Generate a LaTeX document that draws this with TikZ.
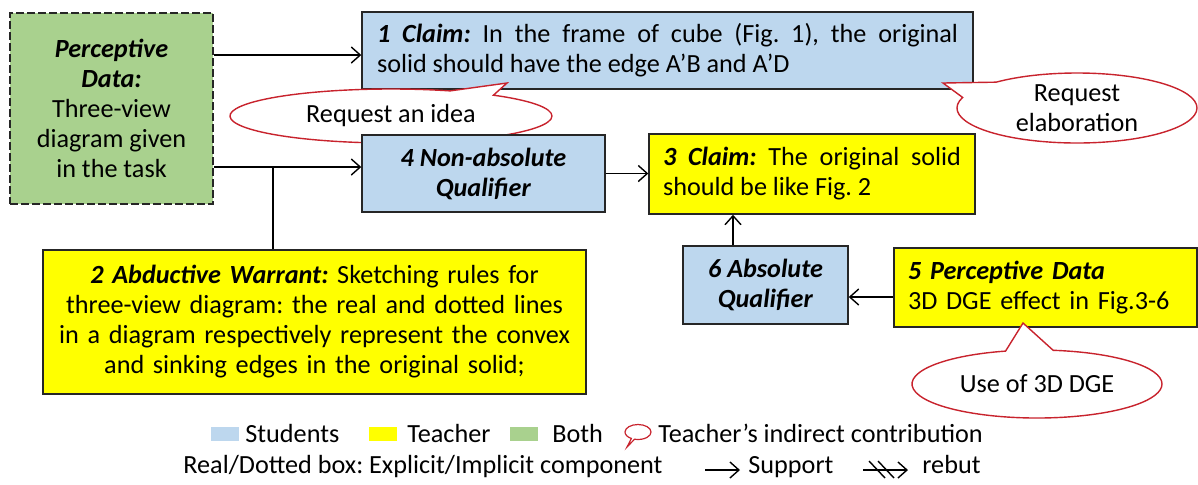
\documentclass[tikz,border=0pt]{standalone}
\usepackage{fontspec}
\setmainfont{Carlito}
\frenchspacing
\usetikzlibrary{
  arrows.meta,
  positioning,
  shapes.callouts
}
\definecolor{stublue}{RGB}{189,215,238}
\definecolor{teachyel}{RGB}{255,255,0}
\definecolor{bothgreen}{RGB}{169,209,142}
\definecolor{callred}{RGB}{200,35,45}
\newcommand{\boxfont}{\fontsize{13.1pt}{15pt}\selectfont}
\newcommand{\hd}[1]{\textbf{\textit{#1}}}
\tikzset{
  part/.style   = {draw=black!85, line width=0.7pt, inner ysep=0pt,
                   inner xsep=7pt, font=\boxfont},
  stud/.style   = {part, fill=stublue},
  teach/.style  = {part, fill=teachyel},
  both/.style   = {part, fill=bothgreen, line width=0.8pt,
                   dash pattern=on 4pt off 1.5pt},
  arrow/.style  = {-{Straight Barb[length=4.5pt,width=8pt]}, line width=0.7pt},
  bubble/.style = {ellipse callout, draw=callred, fill=white, line width=0.7pt,
                   inner sep=0pt, align=center, font=\boxfont},
  swatch/.style = {minimum width=14pt, minimum height=7pt, inner sep=0pt},
  key/.style    = {anchor=base west, inner sep=0pt, font=\boxfont},
}

\begin{document}
\begin{tikzpicture}[x=0.5pt, y=-0.5pt]
\useasboundingbox (0,0) rectangle (1198,484);

\node[both, align=center, minimum width=101.5pt, minimum height=95.5pt]
  (pdata) at (111.5,108.5)
  {\hd{Perceptive}\\\hd{Data:}\\Three-view\\diagram given\\in the task};
\node[stud, align=justify, text width=290.5pt, inner xsep=7.5pt, minimum height=38.5pt]
  (claimA) at (667.5,50.5)
  {\hd{1 Claim:} In the frame of cube (Fig. 1), the original\linebreak
   solid should have the edge A’B and A’D};

% callout sits between the two blue boxes
\coordinate (ideaTip) at (507,83);
\node[bubble, minimum width=161pt, minimum height=27pt,
      callout absolute pointer=(ideaTip), callout pointer arc=18]
  (idea) at (391,116) {Request an idea};

\node[stud, align=center, minimum width=121.5pt, minimum height=38.5pt]
  (qualA) at (483.5,173.5) {\hd{4 Non-absolute}\\\hd{Qualifier}};
\node[teach, align=justify, text width=149pt, minimum height=40pt]
  (claimB) at (812,174)
  {\hd{3 Claim:} The original solid\linebreak should be like Fig. 2};
\node[stud, align=center, minimum width=82.5pt, minimum height=39pt]
  (absQ) at (765.5,285) {\hd{6 Absolute}\\\hd{Qualifier}};
\node[teach, align=left, text width=137.5pt, minimum height=39.5pt]
  (percB) at (1045.5,287.5)
  {\hd{5 Perceptive Data}\\3D DGE effect in Fig.3-6};
\node[teach, align=center, text width=265pt, inner xsep=3.25pt, minimum height=72pt]
  (warr) at (314.5,322)
  {\hd{2 Abductive Warrant:} Sketching rules for\\
   three-view diagram: the real and dotted lines\\
   in a diagram respectively represent the convex\\
   and sinking edges in the original solid;};

\coordinate (elabTip) at (943,83);
\node[bubble, minimum width=120pt, minimum height=35pt,
      callout absolute pointer=(elabTip), callout pointer arc=30]
  (elab) at (1077,108) {Request\\elaboration};
\coordinate (dgeTip) at (1023,323);
\node[bubble, minimum width=125pt, minimum height=34pt,
      callout absolute pointer=(dgeTip), callout pointer arc=22]
  (dge) at (1037,384) {Use of 3D DGE};

% support links
\coordinate (junc) at (273,167);
\draw[arrow] (pdata.east |- 0,55) -- (claimA.west |- 0,55);
\draw[arrow] (pdata.east |- junc) -- (qualA.west |- junc);
\draw[line width=0.7pt] (junc |- warr.north) -- (junc);
\draw[arrow] (qualA.east) -- (claimB.west |- qualA.east);
\draw[arrow] (absQ.north -| 733,0) -- (claimB.south -| 733,0);
\draw[arrow] (percB.west |- 0,297) -- (absQ.east |- 0,297);

% legend
\node[swatch, fill=stublue] (kStud) at (225,434) {};
\node[key] (tStud) at (245,442) {Students};
\node[swatch, fill=teachyel] (kTeach) at (383,434) {};
\node[key] (tTeach) at (407,442) {Teacher};
\node[swatch, fill=bothgreen] (kBoth) at (524,434) {};
\node[key] (tBoth) at (552,442) {Both};
\coordinate (iconTip) at (627,447);
\node[ellipse callout, draw=callred, line width=0.6pt, minimum width=13pt,
      minimum height=7.5pt, inner sep=0pt, callout absolute pointer=(iconTip)]
  (kInd) at (638,432) {};
\node[key] (tInd) at (658,442) {Teacher’s indirect contribution};
\node[key] (tBox) at (183,473) {Real/Dotted box: Explicit/Implicit component};
\coordinate (supS) at (705,470);
\node[key] (tSup) at (748,473) {Support};
\draw[arrow] (supS) -- ([xshift=-4pt]tSup.west |- supS);
\coordinate (rebS) at (863,470);
\node[key] (tReb) at (922,473) {rebut};
\draw[arrow] (rebS) -- ([xshift=-7pt]tReb.west |- rebS);
\draw[line width=0.7pt] (rebS) ++(6,-9) -- ++(16,17);
\draw[line width=0.7pt] (rebS) ++(15,-9) -- ++(16,17);
\end{tikzpicture}
\end{document}
